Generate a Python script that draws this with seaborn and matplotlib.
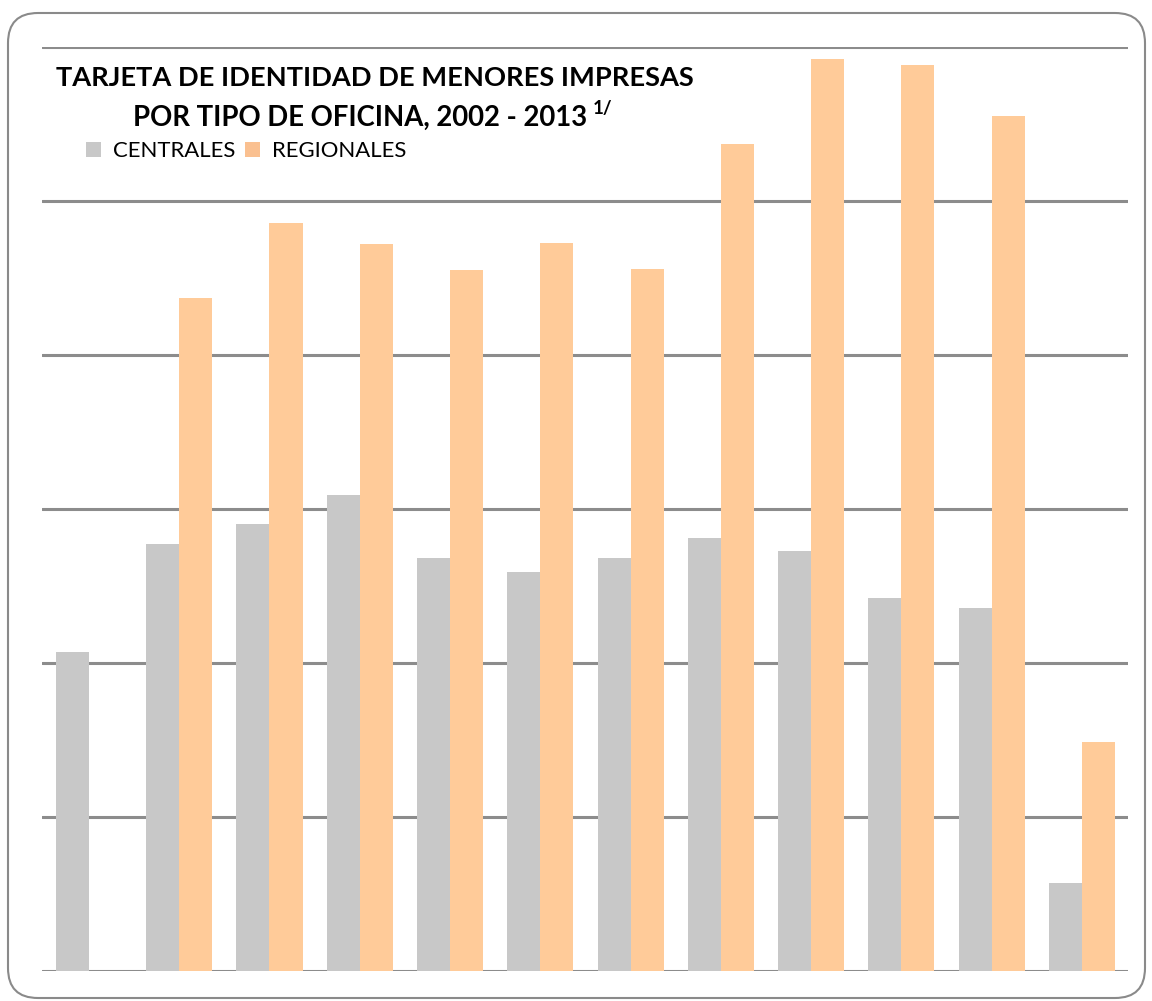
import matplotlib
matplotlib.use("Agg")
import matplotlib.pyplot as plt
from matplotlib.patches import FancyBboxPatch, Patch
from matplotlib.transforms import IdentityTransform
import pandas as pd
import seaborn as sns

# valores (escala sin etiquetas, paso de rejilla = 10000)
years = [str(y) for y in range(2002, 2014)]
centrales = [20700, 27700, 29000, 30900, 26800, 25900, 26800, 28100, 27300, 24200, 23600, 5700]
regionales = [0, 43700, 48600, 47200, 45500, 47300, 45600, 53700, 59200, 58800, 55500, 14900]

GRAY = "#c8c8c8"
ORANGE = "#ffcb99"

df = pd.DataFrame({
    "anio": years * 2,
    "tipo": ["CENTRALES"] * len(years) + ["REGIONALES"] * len(years),
    "valor": centrales + regionales,
})

sns.set_theme(style="white")
plt.rcParams["font.family"] = ["Lato", "DejaVu Sans"]

W, H = 1152, 1001
fig = plt.figure(figsize=(W / 100, H / 100), dpi=100)
ax = fig.add_axes([42 / W, 1 - 971 / H, (1128 - 42) / W, (971 - 47) / H])

sns.barplot(data=df, x="anio", y="valor", hue="tipo", palette=[GRAY, ORANGE],
            width=0.733, linewidth=0, saturation=1, ax=ax, legend=False)

ax.set_ylim(0, 60000)
ax.set_xlim(-0.52, 11.51)
ax.set_yticks(range(0, 60001, 10000))
ax.yaxis.grid(True, color="#8c8c8c", linewidth=2.2)
ax.set_axisbelow(True)
for s in ax.spines.values():
    s.set_visible(False)
ax.tick_params(left=False, bottom=False, labelleft=False, labelbottom=False)
ax.set_xlabel("")
ax.set_ylabel("")

# marco redondeado
frame = FancyBboxPatch((8, 3), 1137, 985, boxstyle="round,pad=0,rounding_size=30",
                       transform=IdentityTransform(), facecolor="none",
                       edgecolor="#8a8a8a", linewidth=1.5)
fig.patches.append(frame)

fig.text(375 / W, 1 - 78 / H, "TARJETA DE IDENTIDAD DE MENORES IMPRESAS",
         ha="center", va="center", fontsize=19.6, fontweight="bold", color="black")
t2 = fig.text(133 / W, 1 - 118 / H, "POR TIPO DE OFICINA, 2002 - 2013",
              ha="left", va="center", fontsize=19.8, fontweight="bold", color="black")
fig.canvas.draw()
bb = t2.get_window_extent()
fig.text((bb.x1 + 6) / W, (bb.y1 + 5) / H, "1/", ha="left", va="top",
         fontsize=13.5, fontweight="bold", color="black")

handles = [Patch(facecolor=GRAY, edgecolor="none"), Patch(facecolor="#fac090", edgecolor="none")]
fig.legend(handles, ["CENTRALES", "REGIONALES"], loc="center left",
           bbox_to_anchor=(86 / W, 1 - 151 / H), ncol=2, frameon=False,
           fontsize=15.9, handlelength=0.68, handleheight=0.68, handletextpad=0.54,
           columnspacing=0.45, borderpad=0, borderaxespad=0, labelcolor="black")

fig.savefig("out.png", dpi=100)
